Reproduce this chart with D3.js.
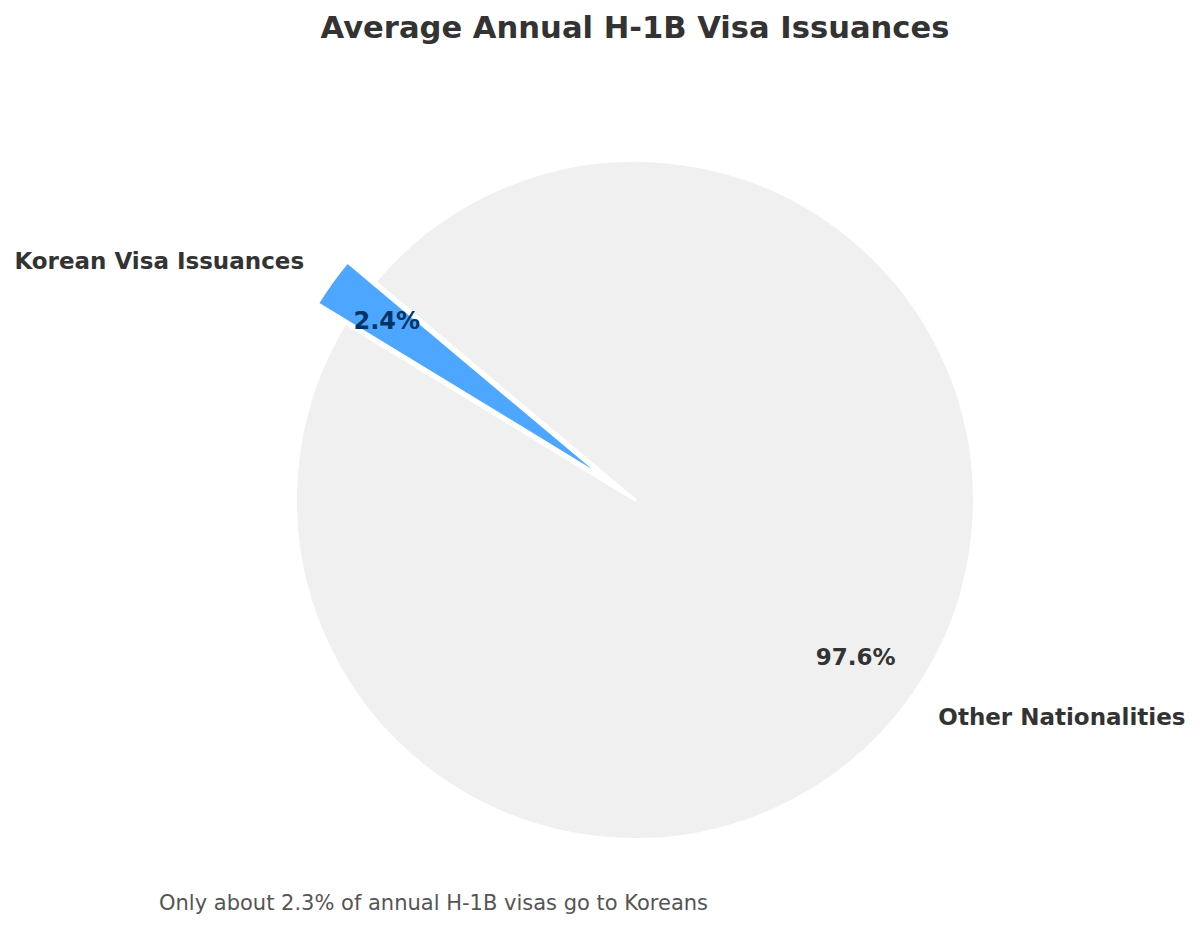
<!DOCTYPE html>
<html><head><meta charset="utf-8">
<script src="https://cdn.jsdelivr.net/npm/d3@7"></script>
<style>body{margin:0;background:#fff}svg{display:block}</style>
</head><body>
<script>
const categories = ["Korean Visa Issuances", "Other Nationalities"];
const values = [2.4, 97.6];
const explode = [0.1, 0];
const colors = ["#4da6ff", "#f0f0f0"];
const pctColors = ["#003366", "#333333"];
const pctSizes = [24, 23];
const title = "Average Annual H-1B Visa Issuances";
const note = "Only about 2.3% of annual H-1B visas go to Koreans";

const W = 1200, H = 940, cx = 635, cy = 500, R = 339.5;
const svg = d3.select("body").append("svg").attr("width", W).attr("height", H);
const font = "'DejaVu Sans', sans-serif";

svg.append("text").attr("x", cx).attr("y", 27).attr("text-anchor", "middle")
  .attr("dominant-baseline", "central")
  .attr("font-family", font).attr("font-weight", "bold").attr("font-size", 30.6)
  .attr("fill", "#333").text(title);

const deg = Math.PI / 180;
const start = (90 - 140) * deg;
const pie = d3.pie().sort(null).value(d => d.v).startAngle(start).endAngle(start - 2 * Math.PI);
const data = pie(categories.map((c, i) => ({c, v: values[i], i})));
const arc = d3.arc().innerRadius(0).outerRadius(R);

const g = svg.append("g").attr("transform", `translate(${cx},${cy})`);
data.forEach(d => {
  const i = d.data.i;
  const a = (d.startAngle + d.endAngle) / 2;
  const ox = Math.sin(a) * R * explode[i], oy = -Math.cos(a) * R * explode[i];
  const wg = g.append("g").attr("transform", `translate(${ox},${oy})`);
  wg.append("path").attr("d", arc(d)).attr("fill", colors[i])
    .attr("stroke", "#fff").attr("stroke-width", 3).attr("stroke-linejoin", "round");
  d.a = a; d.ox = ox; d.oy = oy;
});
data.forEach(d => {
  const i = d.data.i, a = d.a;
  const px = d.ox + Math.sin(a) * R * 0.8, py = d.oy - Math.cos(a) * R * 0.8;
  g.append("text").attr("x", px).attr("y", py - 1).attr("text-anchor", "middle")
    .attr("dominant-baseline", "central").attr("font-family", font).attr("font-weight", "bold")
    .attr("font-size", pctSizes[i]).attr("fill", pctColors[i]).text(d3.format(".1f")(d.data.v) + "%");
  const lx = d.ox + Math.sin(a) * R * 1.1, ly = d.oy - Math.cos(a) * R * 1.1;
  g.append("text").attr("x", lx).attr("y", ly - 1).attr("text-anchor", Math.sin(a) < 0 ? "end" : "start")
    .attr("dominant-baseline", "central").attr("font-family", font).attr("font-weight", "bold")
    .attr("font-size", 23).attr("fill", "#333").text(d.data.c);
});

svg.append("text").attr("x", 159).attr("y", 903).attr("dominant-baseline", "central")
  .attr("font-family", font).attr("font-size", 21).attr("fill", "#555").text(note);
</script>
</body></html>
